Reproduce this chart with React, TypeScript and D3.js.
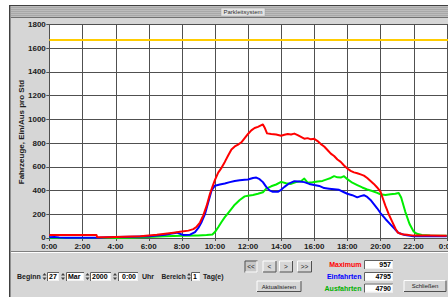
import React from "react";
import * as d3 from "d3";

const hourTicks = [0, 2, 4, 6, 8, 10, 12, 14, 16, 18, 20, 22, 24];
const hourLabels = ["0:00", "2:00", "4:00", "6:00", "8:00", "10:00", "12:00", "14:00", "16:00", "18:00", "20:00", "22:00", "0:00"];
const valueTicks = [0, 200, 400, 600, 800, 1000, 1200, 1400, 1600, 1800];
const capacity = 1665;

const redT = [0, 2.85, 2.9, 3.5, 4.0, 4.5, 5.0, 5.5, 6.0, 6.5, 7.0, 7.5, 8.0, 8.4, 8.7, 8.9, 9.1, 9.3, 9.5, 9.7, 9.85, 10.0, 10.2, 10.4, 10.6, 10.8, 11.0, 11.2, 11.4, 11.6, 11.8, 12.0, 12.2, 12.4, 12.6, 12.75, 12.9, 13.0, 13.15, 13.4, 13.7, 14.0, 14.2, 14.4, 14.6, 14.8, 15.0, 15.2, 15.4, 15.6, 15.8, 16.0, 16.2, 16.4, 16.6, 16.8, 17.0, 17.2, 17.4, 17.6, 17.8, 18.0, 18.2, 18.4, 18.6, 18.8, 19.0, 19.2, 19.4, 19.6, 19.8, 20.0, 20.15, 20.3, 20.5, 20.7, 20.9, 21.05, 21.3, 21.6, 22.0, 22.5, 23.0, 24];
const redV = [25, 25, 6, 6, 8, 10, 12, 15, 22, 28, 36, 45, 54, 62, 75, 95, 130, 190, 270, 370, 430, 486, 550, 590, 640, 694, 745, 770, 785, 805, 840, 875, 905, 925, 935, 945, 955, 930, 880, 875, 870, 860, 868, 875, 870, 878, 865, 850, 835, 840, 830, 835, 815, 790, 770, 740, 710, 690, 660, 640, 610, 585, 565, 552, 545, 535, 525, 505, 480, 455, 425, 390, 330, 270, 200, 140, 80, 45, 32, 27, 20, 20, 20, 19];

const blueT = [0, 0.3, 0.6, 1.0, 2.0, 3.0, 3.5, 4.0, 5.0, 6.0, 6.5, 7.0, 7.4, 7.7, 7.9, 8.1, 8.5, 8.8, 9.0, 9.2, 9.4, 9.6, 9.8, 10.0, 10.3, 10.6, 10.9, 11.2, 11.5, 11.8, 12.0, 12.3, 12.5, 12.7, 12.9, 13.1, 13.3, 13.5, 13.8, 14.0, 14.2, 14.5, 14.8, 15.1, 15.4, 15.7, 16.0, 16.3, 16.6, 16.9, 17.2, 17.5, 17.8, 18.0, 18.3, 18.6, 18.8, 19.0, 19.2, 19.4, 19.6, 19.8, 20.0, 20.3, 20.6, 20.9, 21.1, 21.4, 21.7, 22.0, 24];
const blueV = [6, 8, 5, 3, 3, 3, 6, 8, 10, 14, 20, 28, 38, 45, 35, 25, 28, 50, 85, 135, 200, 300, 400, 440, 450, 458, 470, 480, 485, 490, 492, 505, 508, 495, 470, 430, 400, 388, 388, 405, 430, 460, 478, 475, 470, 455, 445, 438, 420, 415, 410, 405, 385, 372, 360, 342, 352, 360, 345, 320, 285, 250, 210, 160, 115, 70, 42, 28, 20, 14, 14];

const greenT = [0, 3.0, 5.0, 6.0, 7.0, 8.0, 9.0, 9.5, 9.85, 10.0, 10.2, 10.4, 10.6, 10.8, 11.0, 11.2, 11.5, 11.8, 12.0, 12.3, 12.6, 12.9, 13.1, 13.4, 13.7, 14.0, 14.3, 14.6, 14.9, 15.2, 15.4, 15.6, 15.9, 16.2, 16.5, 16.8, 17.0, 17.2, 17.4, 17.6, 17.8, 18.0, 18.3, 18.6, 18.9, 19.2, 19.5, 19.8, 20.0, 20.3, 20.6, 20.9, 21.1, 21.25, 21.5, 21.75, 22.0, 22.2, 22.5, 23.0, 24];
const greenV = [0, 0, 3, 8, 14, 18, 22, 25, 30, 50, 90, 135, 175, 210, 245, 280, 320, 350, 355, 362, 372, 385, 415, 435, 450, 472, 460, 455, 470, 478, 500, 465, 468, 475, 480, 495, 505, 520, 510, 508, 520, 495, 465, 445, 425, 408, 395, 380, 368, 362, 368, 372, 378, 340, 220, 120, 55, 35, 25, 20, 19];

const maxLabel = "957";
const inLabel = "4795";
const outLabel = "4790";

const FONT = "'Liberation Sans', Arial, sans-serif";
const GRAY = "#d6d6d6";

function Sunken({ x, y, w, h, text, align = "left" }: any) {
  return (
    <g>
      <rect x={x} y={y} width={w} height={h} fill="#fff" />
      <path d={`M${x + 0.5},${y + h} V${y + 0.5} H${x + w}`} stroke="#606060" fill="none" />
      <path d={`M${x + 1},${y + h - 0.5} H${x + w - 0.5} V${y + 1}`} stroke="#f0f0f0" fill="none" />
      <text x={align === "right" ? x + w - 2 : x + 2} y={y + h - 2} fontSize={7} fontWeight="bold" textAnchor={align === "right" ? "end" : "start"} fontFamily={FONT} fill="#000">{text}</text>
    </g>
  );
}

function Spinner({ x, y }: any) {
  return (
    <g fill="#404040">
      <path d={`M${x},${y + 3.5} L${x + 2},${y + 1} L${x + 4},${y + 3.5} Z`} />
      <path d={`M${x},${y + 5.5} L${x + 2},${y + 8} L${x + 4},${y + 5.5} Z`} />
    </g>
  );
}

function Button({ x, y, w, h, text, pressed = false, size = 6.5 }: any) {
  return (
    <g>
      <rect x={x} y={y} width={w} height={h} fill={pressed ? "#c8c8c8" : GRAY} />
      <path d={`M${x + 0.5},${y + h} V${y + 0.5} H${x + w}`} stroke={pressed ? "#505050" : "#ffffff"} fill="none" />
      <path d={`M${x + 0.5},${y + h - 0.5} H${x + w - 0.5} V${y + 0.5}`} stroke={pressed ? "#ffffff" : "#505050"} fill="none" />
      <text x={x + w / 2} y={y + h / 2 + 2.3} fontSize={size} textAnchor="middle" fontFamily={FONT} fill="#202020">{text}</text>
    </g>
  );
}

export default function App() {
  const W = 448, H = 297;
  const x = d3.scaleLinear().domain([0, 24]).range([49.3, 446.7]);
  const y = d3.scaleLinear().domain([0, 1800]).range([238, 24]);
  const line = (t: number[], v: number[]) =>
    d3.line<number>().x((_, i) => x(t[i])).y((d) => y(d))(v) as string;

  return (
    <svg width={W} height={H} style={{ position: "absolute", left: 0, top: 0 }} fontFamily={FONT}>
      <rect x={0} y={0} width={W} height={H} fill="#fff" />
      {/* window */}
      <rect x={9} y={5} width={W} height={H} fill={GRAY} />
      <line x1={9.5} y1={5} x2={9.5} y2={H} stroke="#404040" />
      <line x1={10.5} y1={6} x2={10.5} y2={H} stroke="#909090" />
      <line x1={9} y1={5.5} x2={W} y2={5.5} stroke="#404040" />
      {/* title bar */}
      <rect x={11} y={6} width={W} height={11} fill="#bcbcbc" />
      {[7, 9, 11, 13, 15].map((yy) => (
        <line key={yy} x1={11} x2={W} y1={yy + 0.5} y2={yy + 0.5} stroke="#a8a8a8" />
      ))}
      <line x1={11} x2={W} y1={17.5} y2={17.5} stroke="#707070" />
      <rect x={221} y={8} width={44} height={8} fill="#e4e4e4" stroke="#a0a0a0" strokeWidth={0.5} />
      <text x={243} y={14.3} fontSize={6} textAnchor="middle" fill="#303030">Parkleitsystem</text>

      {/* plot */}
      <rect x={x(0)} y={y(1800)} width={x(24) - x(0) + 2} height={y(0) - y(1800)} fill="#fff" />
      {valueTicks.map((v) => (
        <g key={v}>
          <line x1={x(0) - 3} x2={W} y1={Math.round(y(v)) + 0.5} y2={Math.round(y(v)) + 0.5} stroke="#505050" />
          <text x={x(0) - 3.5} y={y(v) + (v === 0 ? 2 : 2.8)} fontSize={8} fontWeight="bold" textAnchor="end" fill="#202020">{v}</text>
        </g>
      ))}
      {hourTicks.map((h, i) => (
        <g key={i}>
          <line x1={Math.round(x(h)) + 0.5} x2={Math.round(x(h)) + 0.5} y1={y(1800)} y2={y(0) + 3} stroke="#505050" />
          <text x={x(h)} y={248.5} fontSize={8} fontWeight="bold" textAnchor="middle" fill="#202020">{hourLabels[i]}</text>
        </g>
      ))}
      <text transform={`translate(23.5,132) rotate(-90)`} fontSize={8} fontWeight="bold" textAnchor="middle" fill="#202020">Fahrzeuge,  Ein/Aus pro Std</text>

      <line x1={x(0)} x2={W} y1={y(capacity)} y2={y(capacity)} stroke="#ffcc00" strokeWidth={2} />
      <path d={line(greenT, greenV)} fill="none" stroke="#00ee00" strokeWidth={2} strokeLinejoin="round" />
      <path d={line(blueT, blueV)} fill="none" stroke="#0000ff" strokeWidth={2} strokeLinejoin="round" />
      <path d={line(redT, redV)} fill="none" stroke="#ff0000" strokeWidth={2} strokeLinejoin="round" />

      {/* bottom panel */}
      <line x1={11} x2={W} y1={251.5} y2={251.5} stroke="#808080" />
      <line x1={11} x2={W} y1={252.5} y2={252.5} stroke="#ffffff" />

      <text x={17} y={279} fontSize={7} fontWeight="bold" fill="#202020">Beginn</text>
      <Spinner x={42.5} y={272} />
      <Sunken x={47} y={272} w={12} h={9} text="27" />
      <Spinner x={61} y={272} />
      <Sunken x={66} y={272} w={18} h={9} text="Mar" />
      <Spinner x={85.5} y={272} />
      <Sunken x={90} y={272} w={21} h={9} text="2000" />
      <Spinner x={113} y={272} />
      <Sunken x={118} y={272} w={20} h={9} text="0:00" align="right" />
      <text x={142} y={279} fontSize={7} fontWeight="bold" fill="#202020">Uhr</text>
      <text x={161.5} y={279} fontSize={6.6} fontWeight="bold" fill="#202020">Bereich</text>
      <Spinner x={187} y={272} />
      <Sunken x={191} y={272} w={9} h={9} text="1" />
      <text x={203} y={279} fontSize={7} fontWeight="bold" fill="#202020">Tag(e)</text>

      <Button x={244.5} y={260.5} w={13} h={12} text="<<" pressed />
      <Button x={262.5} y={260.5} w={14} h={12} text="<" />
      <Button x={279} y={260.5} w={14} h={12} text=">" />
      <Button x={297} y={260.5} w={15} h={12} text=">>" />
      <Button x={256.5} y={280.5} w={45} h={11.5} text="Aktualisieren" size={6} />

      <text x={361.5} y={267} fontSize={7} fontWeight="bold" textAnchor="end" fill="#ff0000">Maximum</text>
      <text x={361.5} y={278.5} fontSize={7} fontWeight="bold" textAnchor="end" fill="#0000ff">Einfahrten</text>
      <text x={361.5} y={290.5} fontSize={7} fontWeight="bold" textAnchor="end" fill="#00b000">Ausfahrten</text>
      <Sunken x={364} y={260} w={29} h={9} text={maxLabel} align="right" />
      <Sunken x={364} y={272} w={29} h={9} text={inLabel} align="right" />
      <Sunken x={364} y={283.5} w={29} h={9} text={outLabel} align="right" />
      <Button x={403.5} y={280} w={43} h={12} text="Schließen" size={6} />
    </svg>
  );
}
